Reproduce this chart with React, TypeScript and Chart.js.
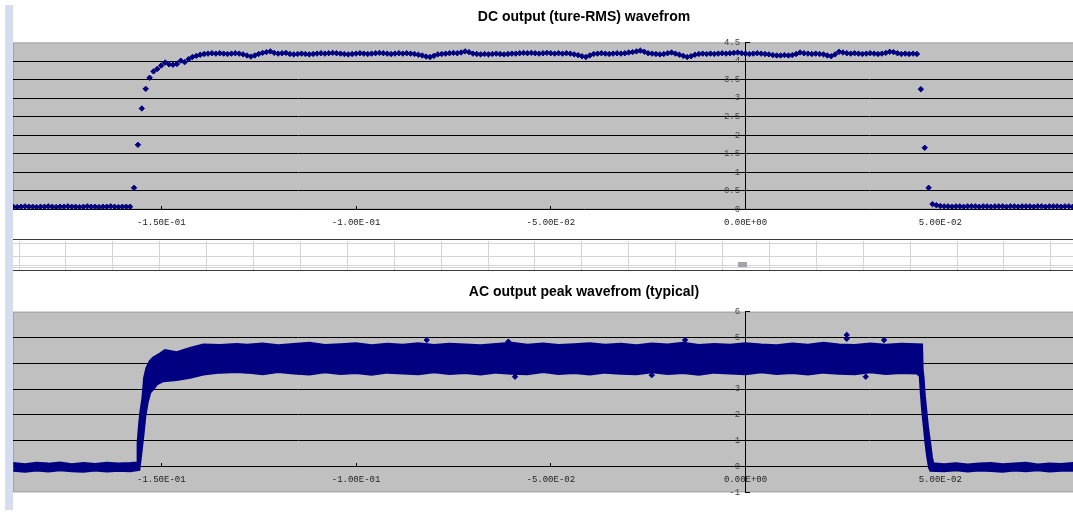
import React, { useEffect, useRef } from "react";
import { Chart, registerables } from "chart.js";

Chart.register(...registerables);

// ---------- shared x axis ----------
const X_MIN = -0.188074;
const X_MAX = 0.105122;
const xTickValues = [-0.15, -0.1, -0.05, 0, 0.05];
const xTickLabels = ["-1.50E-01", "-1.00E-01", "-5.00E-02", "0.00E+00", "5.00E-02"];

// ---------- DC chart (1 ms samples) ----------
const dcTitle = "DC output (ture-RMS) wavefrom";
const dcStartTime = -0.188;
const dcSampleStep = 0.001;
const dcBaseline = [
  0.07, 0.06, 0.07, 0.08, 0.07, 0.07, 0.06, 0.07, 0.07, 0.08,
  0.07, 0.06, 0.07, 0.07, 0.08, 0.07, 0.07, 0.06, 0.07, 0.08,
  0.07, 0.07, 0.06, 0.07, 0.07, 0.08, 0.07, 0.06, 0.07, 0.07, 0.07,
];
const dcRise = [0.58, 1.74, 2.72, 3.25, 3.55, 3.72, 3.79, 3.88, 3.96, 3.91, 3.9, 3.92, 4.01, 3.97, 4.05, 4.11, 4.14, 4.17];
const dcPlateau = [
  4.19, 4.2, 4.21, 4.2, 4.21, 4.2, 4.19, 4.2, 4.21, 4.2,
  4.18, 4.15, 4.12, 4.15, 4.19, 4.22, 4.24, 4.26, 4.22, 4.2,
  4.21, 4.22, 4.19, 4.18, 4.19, 4.2, 4.19, 4.18, 4.19, 4.2,
  4.21, 4.2, 4.21, 4.22, 4.21, 4.2, 4.19, 4.18, 4.19, 4.2,
  4.21, 4.2, 4.19, 4.2, 4.21, 4.22, 4.21, 4.2, 4.19, 4.2,
  4.21, 4.2, 4.21, 4.2, 4.19, 4.17, 4.15, 4.12, 4.11, 4.14,
  4.18, 4.19, 4.2, 4.21, 4.22, 4.21, 4.23, 4.26, 4.24, 4.2,
  4.19, 4.18, 4.19, 4.18, 4.19, 4.2, 4.19, 4.18, 4.19, 4.2,
  4.2, 4.21, 4.22, 4.21, 4.22, 4.21, 4.2, 4.21, 4.22, 4.21,
  4.2, 4.21, 4.2, 4.21, 4.2, 4.18, 4.16, 4.13, 4.11, 4.15,
  4.19, 4.2, 4.21, 4.2, 4.19, 4.2, 4.21, 4.2, 4.21, 4.23,
  4.24, 4.26, 4.28, 4.25, 4.21, 4.2, 4.19, 4.18, 4.19, 4.21,
  4.23, 4.2, 4.17, 4.14, 4.11, 4.13, 4.17, 4.19, 4.2, 4.19,
  4.2, 4.19, 4.2, 4.21, 4.2, 4.21, 4.22, 4.23, 4.21, 4.2,
  4.19, 4.2, 4.21, 4.2, 4.19, 4.18, 4.16, 4.15, 4.15, 4.16,
  4.15, 4.16, 4.19, 4.23, 4.21, 4.2, 4.19, 4.2, 4.19, 4.18,
  4.15, 4.13, 4.18, 4.25, 4.23, 4.21, 4.2, 4.21, 4.2, 4.19,
  4.2, 4.21, 4.2, 4.19, 4.2, 4.22, 4.25, 4.24, 4.21, 4.19,
  4.2, 4.19, 4.2, 4.19,
];
const dcFall = [3.24, 1.66, 0.58, 0.14, 0.11];
const dcTail = [
  0.09, 0.08, 0.08, 0.07, 0.08, 0.08, 0.07, 0.08, 0.08, 0.08,
  0.07, 0.08, 0.08, 0.07, 0.08, 0.08, 0.08, 0.07, 0.08, 0.08,
  0.07, 0.08, 0.08, 0.08, 0.07, 0.08, 0.08, 0.07, 0.08, 0.08,
  0.08, 0.07, 0.08, 0.08, 0.07, 0.08, 0.08,
];
const dcYTicks = { min: 0, max: 4.5, step: 0.5 };

// ---------- AC chart (band envelope of dense samples) ----------
const acTitle = "AC output peak wavefrom (typical)";
const acBaseLeftT = [-0.188, -0.185, -0.182, -0.179, -0.176, -0.173, -0.17, -0.167, -0.164, -0.161, -0.158];
const acPlateauT = [
  -0.128, -0.124, -0.12, -0.116, -0.112, -0.108, -0.104, -0.1, -0.096, -0.092,
  -0.088, -0.084, -0.08, -0.076, -0.072, -0.068, -0.064, -0.06, -0.056, -0.052,
  -0.048, -0.044, -0.04, -0.036, -0.032, -0.028, -0.024, -0.02, -0.016, -0.012,
  -0.008, -0.004, 0.0, 0.004, 0.008, 0.012, 0.016, 0.02, 0.024, 0.028,
  0.032, 0.036, 0.04, 0.044,
];
const acBaseRightT = [0.051, 0.054, 0.057, 0.06, 0.063, 0.066, 0.069, 0.072, 0.075, 0.078, 0.081, 0.084, 0.087, 0.09, 0.093, 0.096, 0.1, 0.104, 0.108];

const acUpperBaseLeft = [0.12, 0.08, 0.13, 0.1, 0.14, 0.08, 0.12, 0.09, 0.13, 0.1, 0.12];
const acUpperRiseT = [-0.1562, -0.156, -0.15563, -0.15528, -0.15476, -0.15435, -0.15374, -0.15289, -0.15204, -0.15032, -0.14904, -0.14603, -0.14262, -0.1392, -0.13492, -0.13063];
const acUpperRise = [0.14, 0.92, 1.62, 2.14, 2.66, 3.43, 3.82, 4.08, 4.21, 4.37, 4.5, 4.42, 4.58, 4.72, 4.7, 4.74];
const acUpperPlateau = [
  4.71, 4.76, 4.69, 4.74, 4.78, 4.7, 4.73, 4.77, 4.69, 4.75,
  4.71, 4.77, 4.7, 4.75, 4.72, 4.69, 4.74, 4.78, 4.71, 4.76,
  4.7, 4.73, 4.77, 4.71, 4.75, 4.69, 4.76, 4.72, 4.78, 4.7,
  4.74, 4.71, 4.77, 4.72, 4.69, 4.76, 4.71, 4.78, 4.72, 4.7,
  4.76, 4.71, 4.75, 4.73,
];
const acUpperFallT = [0.04524, 0.0454, 0.04565, 0.0459, 0.04634, 0.04678, 0.04737, 0.0478, 0.04822, 0.0487];
const acUpperFall = [4.72, 3.72, 3.43, 2.81, 2.16, 1.51, 0.86, 0.34, 0.08, 0.1];
const acUpperBaseRight = [0.08, 0.11, 0.07, 0.1, 0.12, 0.08, 0.1, 0.13, 0.07, 0.1, 0.09, 0.12, 0.08, 0.11, 0.09, 0.12, 0.08, 0.1, 0.09];

const acLowerBaseLeft = [-0.15, -0.19, -0.14, -0.18, -0.13, -0.17, -0.19, -0.14, -0.18, -0.15, -0.17];
const acLowerRiseT = [-0.1557, -0.15528, -0.1546, -0.15417, -0.15358, -0.15289, -0.15204, -0.15117, -0.14947, -0.14603, -0.14262, -0.1392, -0.13492, -0.13063];
const acLowerRise = [-0.12, 0.4, 1.31, 1.96, 2.48, 2.87, 3.02, 3.19, 3.32, 3.36, 3.45, 3.58, 3.65, 3.67];
const acLowerPlateau = [
  3.65, 3.59, 3.67, 3.62, 3.58, 3.66, 3.6, 3.64, 3.57, 3.65,
  3.62, 3.59, 3.66, 3.6, 3.64, 3.58, 3.65, 3.61, 3.59, 3.67,
  3.6, 3.64, 3.58, 3.65, 3.61, 3.59, 3.66, 3.6, 3.64, 3.57,
  3.65, 3.62, 3.59, 3.66, 3.6, 3.64, 3.58, 3.65, 3.61, 3.59,
  3.66, 3.6, 3.64, 3.62,
];
const acLowerFallT = [0.0448, 0.04506, 0.04539, 0.04583, 0.04626, 0.04668, 0.04719, 0.0475];
const acLowerFall = [3.51, 2.87, 2.22, 1.57, 0.92, 0.4, -0.05, -0.15];
const acLowerBaseRight = [-0.17, -0.13, -0.18, -0.14, -0.16, -0.19, -0.14, -0.17, -0.13, -0.18, -0.15, -0.14, -0.18, -0.15, -0.17, -0.13, -0.16, -0.18, -0.15];

const acOutlierT = [-0.08185, -0.0609, -0.01553, 0.02598, 0.02598, 0.03556, -0.05918, -0.02408, 0.03086];
const acOutlierV = [4.9, 4.84, 4.9, 5.1, 4.95, 4.9, 3.48, 3.54, 3.48];
const acYTicks = { min: -1, max: 6, step: 1 };

// ---------- helpers ----------
const NAVY = "#000080";

function pts(ts: number[], vs: number[]) {
  return ts.map((t, i) => ({ x: t, y: vs[i] }));
}

const plotBg = {
  id: "plotBg",
  beforeDraw(chart: any) {
    const { ctx, chartArea: a } = chart;
    ctx.save();
    ctx.fillStyle = "#c0c0c0";
    ctx.fillRect(a.left, a.top, a.right - a.left, a.bottom - a.top);
    ctx.strokeStyle = "#a4a4a4";
    ctx.lineWidth = 1;
    ctx.strokeRect(a.left + 0.5, a.top + 0.5, a.right - a.left - 1, a.bottom - a.top - 1);
    ctx.restore();
  },
};

function makeOptions(title: string, yt: { min: number; max: number; step: number }, titlePad: any, layoutPad: any) {
  const tickFont = { family: "'Liberation Mono', 'DejaVu Sans Mono', monospace", size: 9 };
  return {
    animation: false,
    responsive: true,
    maintainAspectRatio: false,
    events: [],
    layout: { padding: layoutPad, autoPadding: false },
    plugins: {
      legend: { display: false },
      tooltip: { enabled: false },
      title: {
        display: true,
        text: title,
        color: "#000",
        font: { family: "'Liberation Sans', Arial, sans-serif", size: 14, weight: "bold" },
        padding: titlePad,
      },
    },
    scales: {
      x: {
        type: "linear",
        min: X_MIN,
        max: X_MAX,
        position: { y: 0 },
        afterBuildTicks: (s: any) => {
          s.ticks = xTickValues.map((v) => ({ value: v }));
        },
        ticks: {
          callback: (v: any) => {
            const i = xTickValues.findIndex((t) => Math.abs(t - v) < 1e-9);
            return i >= 0 ? xTickLabels[i] : "";
          },
          font: tickFont,
          color: "#222",
          padding: 12,
          maxRotation: 0,
          autoSkip: false,
        },
        grid: { drawOnChartArea: false, drawTicks: true, tickLength: -4, tickColor: "#000" },
        border: { display: true, color: "#000", width: 1 },
      },
      y: {
        type: "linear",
        min: yt.min,
        max: yt.max,
        position: { x: 0 },
        ticks: {
          stepSize: yt.step,
          // trailing space keeps the label clear of the axis line
          callback: (v: any) => String(v) + " ",
          font: tickFont,
          color: "#444",
          padding: 12,
          autoSkip: false,
        },
        grid: {
          color: (ctx: any) =>
            ctx.tick && (Math.abs(ctx.tick.value - yt.max) < 1e-9 || Math.abs(ctx.tick.value - yt.min) < 1e-9)
              ? "rgba(0,0,0,0)"
              : "#000",
          lineWidth: 1,
          tickLength: -5,
          tickColor: "#000",
        },
        border: { display: true, color: "#000", width: 1 },
      },
    },
  };
}

function dcConfig() {
  const values = [...dcBaseline, ...dcRise, ...dcPlateau, ...dcFall, ...dcTail];
  const data = values.map((v, i) => ({ x: dcStartTime + i * dcSampleStep, y: v }));
  return {
    type: "scatter",
    data: {
      datasets: [
        {
          data,
          pointStyle: "rectRot",
          pointRadius: 2.7,
          pointBackgroundColor: NAVY,
          pointBorderColor: NAVY,
          pointBorderWidth: 1,
          showLine: false,
        },
      ],
    },
    options: makeOptions(dcTitle, dcYTicks, { top: 9.1, bottom: 16.6 }, { top: 0, bottom: 29.7, left: 0, right: 0 }),
    plugins: [plotBg],
  };
}

function acConfig() {
  const upperT = [...acBaseLeftT, ...acUpperRiseT, ...acPlateauT, ...acUpperFallT, ...acBaseRightT];
  const upperV = [...acUpperBaseLeft, ...acUpperRise, ...acUpperPlateau, ...acUpperFall, ...acUpperBaseRight];
  const lowerT = [...acBaseLeftT, ...acLowerRiseT, ...acPlateauT, ...acLowerFallT, ...acBaseRightT];
  const lowerV = [...acLowerBaseLeft, ...acLowerRise, ...acLowerPlateau, ...acLowerFall, ...acLowerBaseRight];
  return {
    type: "scatter",
    data: {
      datasets: [
        {
          data: pts(upperT, upperV),
          showLine: true,
          borderColor: NAVY,
          borderWidth: 2.6,
          backgroundColor: NAVY,
          pointRadius: 0,
          tension: 0,
          fill: "+1",
        },
        {
          data: pts(lowerT, lowerV),
          showLine: true,
          borderColor: NAVY,
          borderWidth: 2.6,
          backgroundColor: NAVY,
          pointRadius: 0,
          tension: 0,
          fill: false,
        },
        {
          data: pts(acOutlierT, acOutlierV),
          showLine: false,
          pointStyle: "rectRot",
          pointRadius: 2.7,
          pointBackgroundColor: NAVY,
          pointBorderColor: NAVY,
          pointBorderWidth: 1,
        },
      ],
    },
    options: makeOptions(acTitle, acYTicks, { top: 13.3, bottom: 11.6 }, { top: 0, bottom: 25.7, left: 0, right: 0 }),
    plugins: [plotBg],
  };
}

function ChartBox({ make, style }: { make: () => any; style: React.CSSProperties }) {
  const ref = useRef<HTMLCanvasElement | null>(null);
  useEffect(() => {
    if (!ref.current) return;
    const chart = new Chart(ref.current, make());
    return () => chart.destroy();
  }, [make]);
  return (
    <div style={{ position: "absolute", ...style }}>
      <canvas ref={ref} />
    </div>
  );
}

export default function App() {
  const cellLines: number[] = [];
  for (let x = 18.5; x < 1073; x += 46.9) cellLines.push(x);
  const rowLines = [243, 256, 264.5, 267];
  return (
    <div
      style={{
        position: "fixed",
        left: 0,
        top: 0,
        width: 1073,
        height: 518,
        overflow: "hidden",
        background: "#fff",
      }}
    >
      <ChartBox make={dcConfig} style={{ left: 13, top: 0, width: 1142, height: 239 }} />
      <div style={{ position: "absolute", left: 13, top: 239, width: 1060, height: 31, background: "#fff" }}>
        {cellLines.map((x, i) => (
          <div
            key={"c" + i}
            style={{ position: "absolute", left: x - 13, top: 2, width: 1, height: 29, background: "#d4d4d4" }}
          />
        ))}
        {rowLines.map((y, i) => (
          <div
            key={"r" + i}
            style={{ position: "absolute", left: 0, top: y - 239, width: 1060, height: 1, background: "#d4d4d4" }}
          />
        ))}
        <div style={{ position: "absolute", left: 738 - 13, top: 261.5 - 239, width: 9, height: 5, background: "#a3a3ab" }} />
      </div>
      <ChartBox make={acConfig} style={{ left: 13, top: 270, width: 1142, height: 248 }} />
      <div style={{ position: "absolute", left: 13, top: 238.5, width: 1060, height: 1.5, background: "#3a3a3a" }} />
      <div style={{ position: "absolute", left: 13, top: 269.5, width: 1060, height: 1.5, background: "#3a3a3a" }} />
      <div style={{ position: "absolute", left: 5, top: 5, width: 8, height: 505, background: "#d5ddef" }} />
    </div>
  );
}
